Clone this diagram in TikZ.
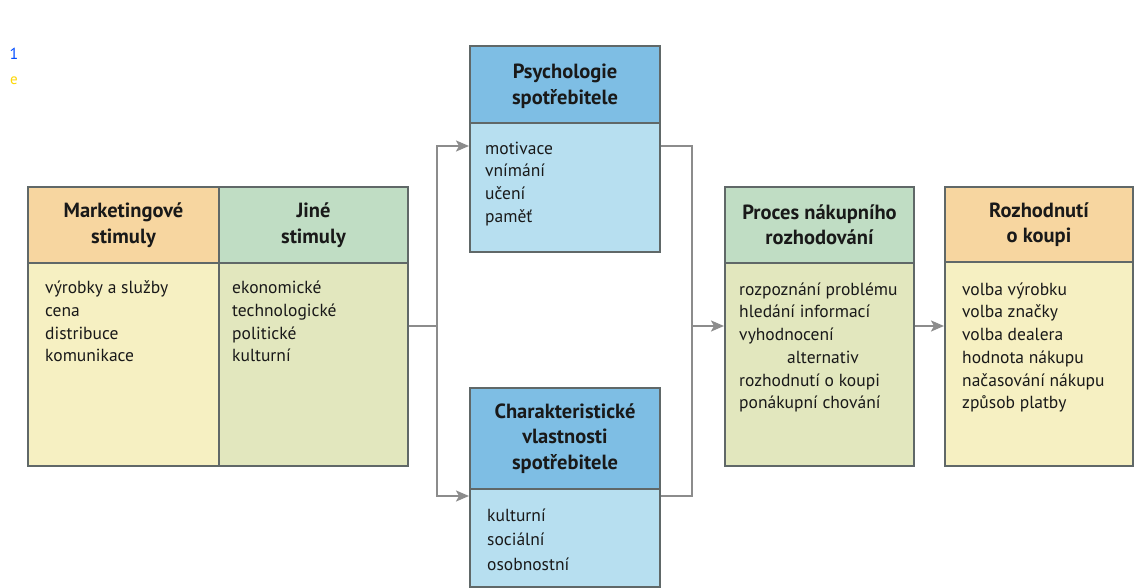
\documentclass[tikz,border=0pt]{standalone}
\usepackage{fontspec}
\setmainfont{PT Sans}
\usetikzlibrary{arrows.meta}

\definecolor{orangehead}{RGB}{247,214,160}
\definecolor{yellowbody}{RGB}{246,240,194}
\definecolor{greenhead}{RGB}{192,221,196}
\definecolor{greenbody}{RGB}{226,231,190}
\definecolor{bluehead}{RGB}{126,190,228}
\definecolor{bluebody}{RGB}{183,223,240}
\definecolor{frame}{RGB}{96,104,104}
\definecolor{wire}{RGB}{140,140,140}
\definecolor{ink}{RGB}{25,25,25}

% fixed first-line height so list tops line up with their baselines
\newcommand{\firstline}{\rule{0pt}{14bp}}

\begin{document}
\begin{tikzpicture}[x=1bp,y=-1bp,
  panel/.style={draw=frame, line width=2bp, anchor=north west, inner sep=0pt},
  headtext/.style={text=ink, align=center, inner sep=0pt,
                   font=\fontsize{20.5bp}{25.5bp}\selectfont\bfseries},
  listtext/.style={text=ink, align=left, anchor=north west, inner sep=0pt,
                   font=\fontsize{17.5bp}{22.7bp}\selectfont},
  link/.style={draw=wire, line width=2bp},
  flow/.style={link, -{Stealth[length=13bp, width=11bp, inset=3bp]}}]

\useasboundingbox (0,0) rectangle (1135,588);
\fill[white] (0,0) rectangle (1135,588);

% clipped fragments at the left margin
\node[text=blue!70!cyan, font=\fontsize{16bp}{16bp}\selectfont, inner sep=0pt] (fragA) at (14,54) {1};
\node[text=yellow!75!orange, font=\fontsize{15bp}{15bp}\selectfont, inner sep=0pt] (fragB) at (14,81) {e};

% ---- Marketing stimuli ----
\node[panel, fill=orangehead, minimum width=191bp, minimum height=76bp] (mh) at (27,186) {};
\node[headtext] at (mh.center) {Marketingové\\stimuly};
\node[panel, fill=yellowbody, minimum width=191bp, minimum height=203bp] (mb) at (27,262) {};
\node[listtext] (mt) at (45,279.5) {\firstline výrobky a služby\\cena\\distribuce\\komunikace};

% ---- Other stimuli ----
\node[panel, fill=greenhead, minimum width=189bp, minimum height=76bp] (jh) at (218,186) {};
\node[headtext] at (jh.center) {Jiné\\stimuly};
\node[panel, fill=greenbody, minimum width=189bp, minimum height=203bp] (jb) at (218,262) {};
\node[listtext] (jt) at (232,279.5) {\firstline ekonomické\\technologické\\politické\\kulturní};

% ---- Consumer psychology ----
\node[panel, fill=bluehead, minimum width=190bp, minimum height=77bp] (ph) at (469,45) {};
\node[headtext, yshift=-2bp] at (ph.center) {Psychologie\\spotřebitele};
\node[panel, fill=bluebody, minimum width=190bp, minimum height=129bp] (pb) at (469,122) {};
\node[listtext] (pt) at (485,140) {\firstline motivace\\vnímání\\učení\\paměť};

% ---- Consumer characteristics ----
\node[panel, fill=bluehead, minimum width=190bp, minimum height=101bp] (ch) at (469,387) {};
\node[headtext] at (ch.center) {Charakteristické\\vlastnosti\\spotřebitele};
\node[panel, fill=bluebody, minimum width=190bp, minimum height=98bp] (cb) at (469,488) {};
\node[listtext, font=\fontsize{17.5bp}{24.5bp}\selectfont] (ct) at (487,507) {\firstline kulturní\\sociální\\osobnostní};

% ---- Buying decision process ----
\node[panel, fill=greenhead, minimum width=189bp, minimum height=76bp] (prh) at (724,186) {};
\node[headtext] at (prh.center) {Proces nákupního\\rozhodování};
\node[panel, fill=greenbody, minimum width=189bp, minimum height=203bp] (prb) at (724,262) {};
\node[listtext] (prt) at (739,281) {\firstline rozpoznání problému\\hledání informací\\vyhodnocení\\\hspace*{48bp}alternativ\\rozhodnutí o koupi\\ponákupní chování};

% ---- Purchase decision ----
\node[panel, fill=orangehead, minimum width=188bp, minimum height=75bp] (rh) at (944,186) {};
\node[headtext] at (rh.center) {Rozhodnutí\\o koupi};
\node[panel, fill=yellowbody, minimum width=188bp, minimum height=204bp] (rb) at (944,261) {};
\node[listtext] (rt) at (962,281) {\firstline volba výrobku\\volba značky\\volba dealera\\hodnota nákupu\\načasování nákupu\\způsob platby};

% ---- connectors ----
\coordinate (split) at (437,326);
\coordinate (merge) at (692,326);
\coordinate (upper) at (0,146);
\coordinate (lower) at (0,496);

\draw[link] (jb.east |- split) -- (split);
\draw[flow] (split) |- (pb.west |- upper);
\draw[flow] (split) |- (cb.west |- lower);
\draw[link] (pb.east |- upper) -| (merge);
\draw[link] (cb.east |- lower) -| (merge);
\draw[flow] (merge) -- (prb.west |- merge);
\draw[flow] (prb.east |- merge) -- (rb.west |- merge);
\end{tikzpicture}
\end{document}
